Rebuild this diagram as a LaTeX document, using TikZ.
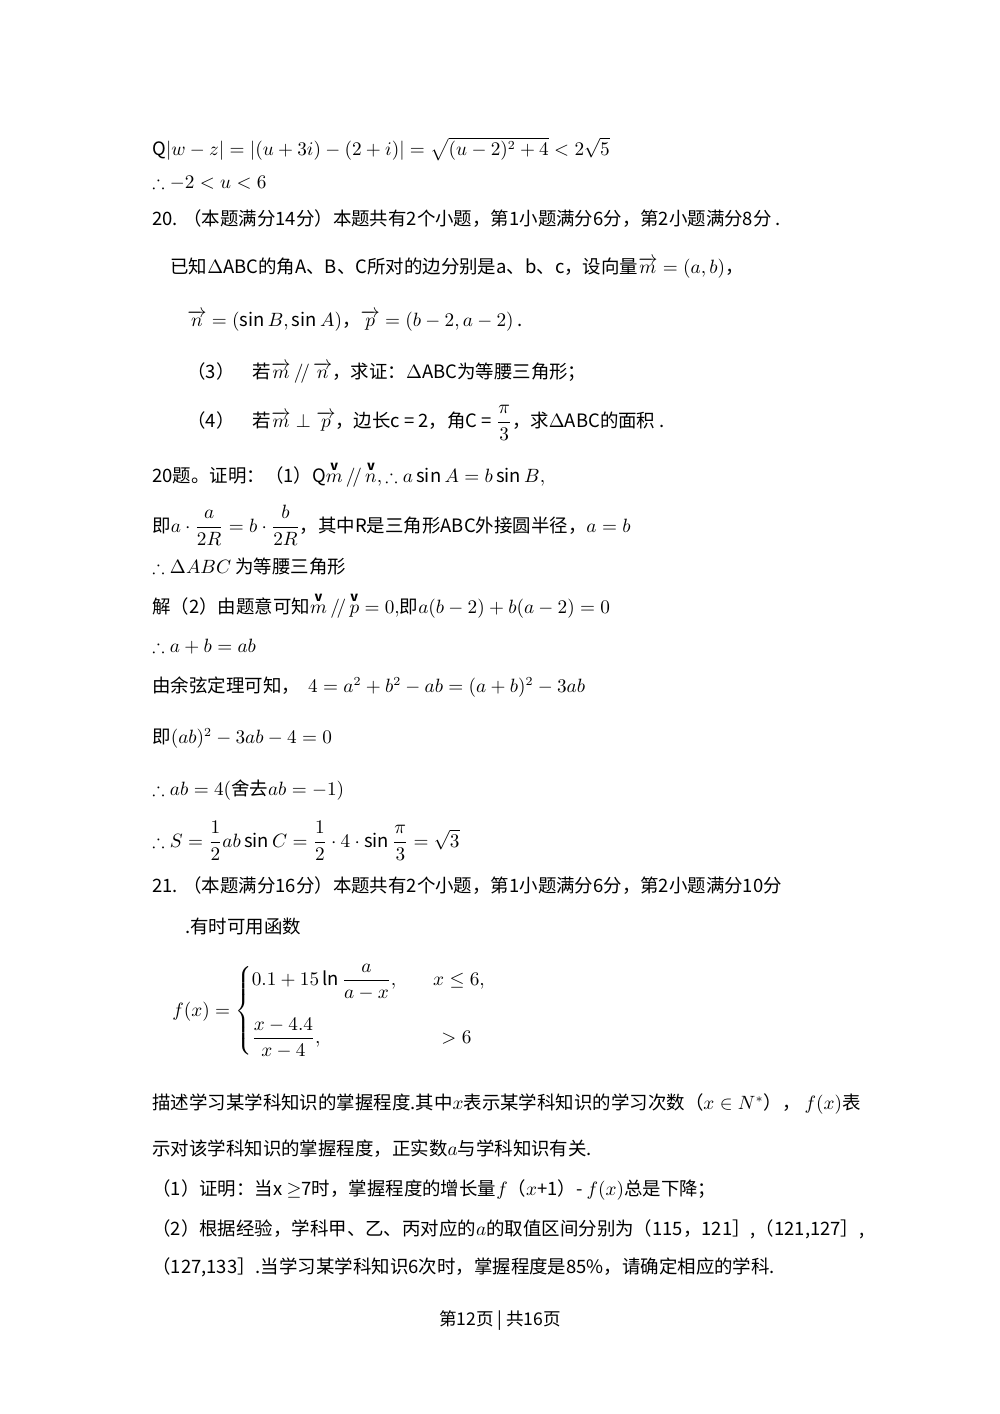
\documentclass[tikz,border=0pt]{standalone}
\usepackage{amsmath,amssymb}
\usepackage{fontspec}
\setmainfont{Noto Sans CJK SC}
\begin{document}
\begin{tikzpicture}[x=0.02cm,y=-0.02cm,
  t/.style={anchor=base west,inner sep=0pt,font=\fontsize{10.5}{13}\selectfont}]
\useasboundingbox[fill=white] (0,0) rectangle (1000,1414);
\node[t] (l1) at (152,155) {Q$\left|w-z\right|=\left|(u+3i)-(2+i)\right|=\sqrt{(u-2)^2+4}<2\sqrt5$};
\node[t] (l2) at (152,188) {$\therefore -2<u<6$};
\node[t] (l3) at (152,225) {20. （本题满分14分）本题共有2个小题，第1小题满分6分，第2小题满分8分 .};
\node[t] (l4) at (170,273) {已知$\Delta$ABC的角A、B、C所对的边分别是a、b、c，设向量$\overrightarrow{m}=(a,b)$，};
\node[t] (l5) at (187,326) {$\overrightarrow{n}=(\sin B,\sin A)$，$\overrightarrow{p}=(b-2,a-2)$ .};
\node[t] (l6) at (187,378) {（3）\quad 若$\overrightarrow{m}\,/\!/\,\overrightarrow{n}$，求证：$\Delta$ABC为等腰三角形；};
\node[t] (l7) at (187,427) {（4）\quad 若$\overrightarrow{m}\perp\overrightarrow{p}$，边长c = 2，角C = $\dfrac{\pi}{3}$，求$\Delta$ABC的面积 .};
\node[t] (l8) at (152,482) {20题。证明：（1）Q$\overset{\textbf{v}}{m}\,/\!/\,\overset{\textbf{v}}{n},\therefore a\sin A=b\sin B,$};
\node[t] (l9) at (152,532) {即$a\cdot\dfrac{a}{2R}=b\cdot\dfrac{b}{2R}$，其中R是三角形ABC外接圆半径，$a=b$};
\node[t] (l10) at (152,573) {$\therefore \Delta ABC$ 为等腰三角形};
\node[t] (l11) at (152,613) {解（2）由题意可知$\overset{\textbf{v}}{m}\,/\!/\,\overset{\textbf{v}}{p}=0,$即$a(b-2)+b(a-2)=0$};
\node[t] (l12) at (152,652) {$\therefore a+b=ab$};
\node[t] (l13) at (152,692) {由余弦定理可知，\ \ $4=a^2+b^2-ab=(a+b)^2-3ab$};
\node[t] (l14) at (152,743) {即$(ab)^2-3ab-4=0$};
\node[t] (l15) at (152,795) {$\therefore ab=4($舍去$ab=-1)$};
\node[t] (l16) at (152,847) {$\therefore S=\dfrac12 ab\sin C=\dfrac12\cdot4\cdot\sin\dfrac{\pi}{3}=\sqrt3$};
\node[t] (l17) at (152,892) {21. （本题满分16分）本题共有2个小题，第1小题满分6分，第2小题满分10分};
\node[t] (l18) at (185,933) {.有时可用函数};
\node[t] (l19) at (172,1016) {$f(x)=\begin{cases}0.1+15\ln\dfrac{a}{a-x}, & \quad x\le 6,\\[14pt] \dfrac{x-4.4}{x-4}, & \quad\ \ >6\end{cases}$};
\node[t] (l20) at (152,1109) {描述学习某学科知识的掌握程度.其中$x$表示某学科知识的学习次数（$x\in N^*$），\ $f(x)$表};
\node[t] (l21) at (152,1155) {示对该学科知识的掌握程度，正实数$a$与学科知识有关.};
\node[t] (l22) at (152,1195) {（1）证明：当x $\geq$7时，掌握程度的增长量$f$（$x$+1）- $f(x)$总是下降；};
\node[t] (l23) at (152,1235) {（2）根据经验，学科甲、乙、丙对应的$a$的取值区间分别为（115，121］,（121,127］,};
\node[t] (l24) at (152,1273) {（127,133］.当学习某学科知识6次时，掌握程度是85\%，请确定相应的学科.};
\node[anchor=base,inner sep=0pt,font=\fontsize{10}{12}\selectfont] (ft) at (500,1325) {第12页 | 共16页};
\end{tikzpicture}
\end{document}
